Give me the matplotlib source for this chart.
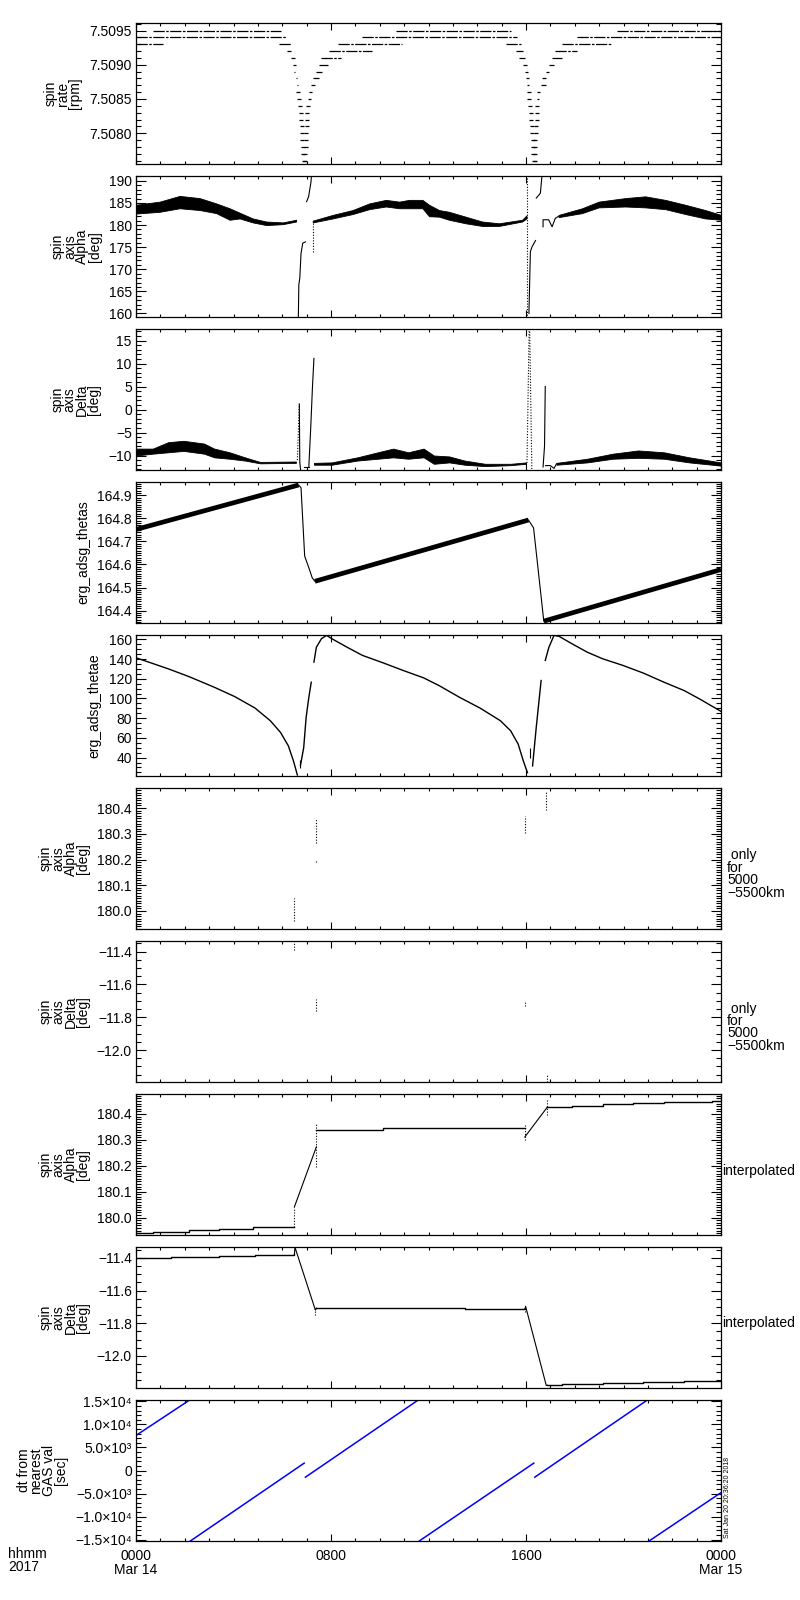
import matplotlib
matplotlib.use("Agg")
import matplotlib.pyplot as plt
from matplotlib.ticker import MultipleLocator, AutoMinorLocator, FuncFormatter, NullFormatter

plt.rcParams['font.family'] = ['Liberation Sans', 'DejaVu Sans']

################################################################################
# Data (hours since 2017-03-14 00:00 UT)
################################################################################
# panel 1 : spin rate [rpm], quantised levels drawn as runs of points
rate_runs = [
    (7.5095, 0.70, 5.95), (7.5095, 10.66, 15.37), (7.5095, 19.73, 24.0),
    (7.5094, 0.00, 6.16), (7.5094, 9.29, 15.64), (7.5094, 18.09, 24.0),
    (7.5093, 0.00, 1.11), (7.5093, 5.85, 6.36), (7.5093, 8.27, 10.93),
    (7.5093, 15.16, 15.78), (7.5093, 17.48, 19.53),
    (7.5092, 6.18, 6.37), (7.5092, 7.93, 9.68), (7.5092, 15.57, 15.87), (7.5092, 17.21, 18.09),
    (7.5091, 6.37, 6.51), (7.5091, 7.59, 8.41), (7.5091, 15.73, 15.95), (7.5091, 17.07, 17.48),
    (7.5090, 6.46, 6.57), (7.5090, 7.52, 7.86), (7.5090, 15.87, 16.05), (7.5090, 16.96, 17.14),
    (7.5089, 6.50, 6.54), (7.5089, 7.38, 7.65), (7.5089, 15.95, 16.09), (7.5089, 16.80, 16.96),
    (7.5088, 6.55, 6.59), (7.5088, 7.25, 7.52), (7.5088, 16.02, 16.12), (7.5088, 16.66, 16.82),
    (7.5087, 6.60, 6.63), (7.5087, 7.18, 7.36), (7.5087, 16.06, 16.14), (7.5087, 16.63, 16.80),
    (7.5086, 7.11, 7.22), (7.5086, 16.46, 16.59),
    (7.5085, 7.04, 7.18), (7.5085, 16.46, 16.53),
]
dip_left_levels = [7.5086, 7.5085, 7.5084, 7.5083, 7.5082, 7.5081, 7.5080,
                   7.5079, 7.5078, 7.5077, 7.5076]
dip1_left = [6.660, 6.701, 6.742, 6.769, 6.783, 6.796, 6.810, 6.824, 6.837, 6.865, 6.878]
dip2_left = [16.12, 16.14, 16.170, 16.197, 16.225, 16.252, 16.266, 16.279, 16.293, 16.307, 16.334]
dip_right_levels = [7.5084, 7.5083, 7.5082, 7.5081, 7.5080, 7.5079, 7.5078, 7.5077, 7.5076]
dip1_right = [7.042, 7.015, 7.001, 7.001, 6.987, 6.974, 6.960, 6.946, 6.919]
dip2_right = [16.470, 16.457, 16.443, 16.416, 16.416, 16.389, 16.389, 16.361, 16.361]

# panel 2 : spin axis alpha [deg], noisy band (lower / upper edge)
alpha_t1 = [0, 0.97, 1.79, 2.61, 3.29, 3.84, 4.25, 4.79, 5.34, 6.02, 6.57]
alpha_lo1 = [182.6, 183.0, 183.8, 183.4, 182.7, 181.2, 181.5, 180.6, 180.0, 180.2, 180.8]
alpha_hi1 = [184.6, 185.3, 186.6, 186.1, 184.9, 183.8, 182.8, 181.5, 180.8, 180.6, 181.2]
alpha_t2 = [7.25, 8.07, 8.89, 9.57, 10.25, 10.8, 11.2, 11.75, 12.02, 12.43, 12.84, 13.52,
            14.2, 14.89, 15.84, 16.02]
alpha_lo2 = [180.6, 181.5, 182.5, 183.6, 184.2, 183.8, 183.8, 183.8, 182.0, 181.9, 181.2,
             180.4, 179.8, 179.8, 180.8, 181.5]
alpha_hi2 = [181.0, 182.3, 183.4, 184.9, 185.7, 185.3, 185.7, 185.7, 184.6, 183.4, 183.0,
             181.9, 180.8, 180.4, 181.2, 182.2]
alpha_t3 = [17.34, 18.3, 18.98, 20.07, 20.89, 21.71, 22.53, 23.35, 24.0]
alpha_lo3 = [181.8, 182.7, 184.0, 184.2, 184.0, 183.6, 182.5, 181.5, 181.2]
alpha_hi3 = [182.3, 183.8, 185.3, 186.1, 186.5, 185.7, 184.6, 183.4, 182.3]
alpha_events = [
    ([6.66, 6.68, 6.72, 6.77, 6.84, 6.95], [159.0, 166.5, 168.0, 173.6, 175.9, 176.2]),
    ([7.00, 7.08, 7.18, 7.20], [185.3, 186.4, 189.8, 191.5]),
    ([16.12, 16.18, 16.25, 16.39], [160.0, 174.0, 175.1, 176.5]),
    ([16.42, 16.59, 16.66], [186.1, 187.2, 191.5]),
    ([16.70, 16.70, 16.93, 17.07, 17.20, 17.34], [179.6, 181.2, 181.2, 179.6, 181.5, 182.0]),
]
alpha_dotted = [(7.25, 174.0, 180.8), (16.03, 159.0, 191.5)]

# panel 3 : spin axis delta [deg]
delta_t1 = [0, 0.69, 1.32, 1.95, 2.79, 3.21, 3.84, 4.47, 5.09, 6.56]
delta_lo1 = [-10.0, -9.6, -9.3, -9.0, -9.6, -10.4, -10.7, -11.1, -11.7, -11.6]
delta_hi1 = [-8.5, -8.5, -7.1, -6.8, -7.4, -8.5, -9.3, -10.4, -11.4, -11.3]
delta_t2 = [7.30, 8.03, 9.08, 9.92, 10.55, 11.17, 11.8, 12.22, 12.85, 13.48, 14.32, 15.37, 16.0]
delta_lo2 = [-12.0, -12.0, -11.1, -10.7, -10.4, -10.7, -10.4, -11.8, -11.5, -12.0, -12.3, -12.1, -11.8]
delta_hi2 = [-11.6, -11.5, -10.4, -9.3, -8.5, -9.3, -8.5, -10.0, -10.2, -11.1, -11.8, -11.8, -11.5]
delta_t3 = [17.25, 18.51, 19.56, 20.6, 21.66, 22.7, 24.0]
delta_lo3 = [-12.0, -11.5, -10.7, -10.5, -10.7, -11.5, -12.2]
delta_hi3 = [-11.6, -10.7, -9.6, -8.9, -9.3, -10.4, -11.5]
delta_events = [
    ([6.70, 6.72, 6.76], [1.2, -11.5, -13.5]),
    ([6.90, 7.09], [-12.5, -12.5]),
    ([7.09, 7.17, 7.24, 7.30], [-12.5, -3.8, 5.0, 11.1]),
    ([16.70, 16.76, 16.79], [-12.5, -8.0, 5.0]),
    ([16.80, 17.0, 17.15, 17.25], [-12.2, -12.2, -12.8, -11.8]),
]
delta_dotted_lines = [
    ([6.62, 6.70], [-11.0, 1.2]),
    ([16.04, 16.13], [-11.6, 17.5]),
    ([16.15, 16.24], [17.5, -13.2]),
]

# panel 4 : erg_adsg_thetas
thetas_thick = [([0.0, 6.67], [164.752, 164.945]),
                ([7.34, 16.10], [164.527, 164.793]),
                ([16.73, 24.0], [164.354, 164.578])]
thetas_drops = [([6.67, 6.77, 6.92, 7.09, 7.23, 7.34], [164.945, 164.933, 164.636, 164.586, 164.542, 164.527]),
                ([16.10, 16.31, 16.52, 16.73], [164.793, 164.759, 164.557, 164.354])]

# panel 5 : erg_adsg_thetae
thetae_t1 = [0, 1.32, 2.16, 3.21, 4.05, 4.88, 5.51, 5.93, 6.25, 6.46, 6.62]
thetae_v1 = [141.3, 130.1, 122.3, 111.4, 101.9, 90.3, 77.4, 65.5, 51.9, 36.6, 22.3]
thetae_rise1_t = [6.75, 6.88, 6.98, 7.09, 7.19]
thetae_rise1_v = [32.5, 50.0, 80.8, 101.0, 116.5]
thetae_t2 = [7.30, 7.40, 7.61, 7.82, 8.03, 8.66, 9.29, 10.13, 10.96, 11.8, 12.43, 13.27,
             14.11, 14.95, 15.37, 15.68, 15.89, 16.06]
thetae_v2 = [136.9, 152.0, 160.7, 164.0, 160.7, 152.0, 143.7, 136.2, 128.4, 120.9, 113.1,
             101.2, 90.3, 77.4, 67.2, 53.6, 36.6, 24.7]
thetae_rise2_t = [16.27, 16.42, 16.52, 16.62]
thetae_rise2_v = [31.5, 70.6, 94.4, 118.2]
thetae_t3 = [16.79, 16.94, 17.15, 17.36, 17.88, 18.51, 19.14, 19.98, 20.82, 21.66, 22.49, 23.12, 24.0]
thetae_v3 = [138.6, 152.0, 164.0, 163.0, 155.6, 147.0, 140.3, 133.5, 125.7, 116.5, 108.0, 99.5, 86.9]
thetae_bits = [(6.71, 29.0, 38.0), (16.17, 40.0, 50.0)]

# panels 6/7 : only for 5000-5500 km (time, low, high)
only_alpha = [(6.50, 179.96, 180.05), (7.40, 180.264, 180.357), (7.40, 180.19, 180.20),
              (15.95, 180.304, 180.368), (16.83, 180.394, 180.465)]
only_delta = [(6.50, -11.39, -11.335), (7.40, -11.76, -11.69),
              (15.95, -11.73, -11.70), (16.87, -12.195, -12.15)]

# panel 8 : interpolated alpha
ialpha_steps = [([0, 0.69, 2.16, 3.42, 4.78, 6.50], [179.942, 179.946, 179.953, 179.957, 179.962, 179.962]),
                ([7.40, 10.13, 15.95], [180.340, 180.344, 180.344]),
                ([16.88, 17.88, 19.14, 20.40, 21.66, 23.65, 24.0],
                 [180.427, 180.432, 180.437, 180.441, 180.446, 180.451, 180.451])]
ialpha_ramps = [([6.50, 7.40], [180.042, 180.273]), ([15.95, 16.88], [180.311, 180.427])]
ialpha_dots = [(6.50, 179.962, 180.042), (7.40, 180.196, 180.36), (15.95, 180.30, 180.36),
               (16.88, 180.395, 180.459)]

# panel 9 : interpolated delta
idelta_steps = [([0, 1.43, 3.42, 4.88, 6.50], [-11.400, -11.396, -11.390, -11.384, -11.377]),
                ([7.40, 13.48, 15.95], [-11.708, -11.712, -11.712]),
                ([16.87, 17.46, 19.14, 20.82, 22.49, 24.0],
                 [-12.179, -12.173, -12.166, -12.160, -12.154, -12.154])]
idelta_ramps = [([6.50, 6.52, 7.36, 7.40], [-11.377, -11.335, -11.72, -11.708]),
                ([15.95, 15.99, 16.83, 16.87], [-11.712, -11.70, -12.18, -12.179])]
idelta_dots = [(7.36, -11.75, -11.70), (15.97, -11.73, -11.69)]

# panel 10 : dt from nearest GAS val [sec], segments (t0, v0, t1, v1)
dt_segments = [(0.00, 7600, 2.20, 15300), (2.23, -15300, 6.90, 1600),
               (6.95, -1450, 11.58, 15300), (11.62, -15300, 16.32, 1600),
               (16.36, -1450, 20.98, 15300), (21.05, -15300, 24.0, -4800)]

ylabels = ["spin\nrate\n[rpm]", "spin\naxis\nAlpha\n[deg]", "spin\naxis\nDelta\n[deg]",
           "erg_adsg_thetas", "erg_adsg_thetae", "spin\naxis\nAlpha\n[deg]",
           "spin\naxis\nDelta\n[deg]", "spin\naxis\nAlpha\n[deg]", "spin\naxis\nDelta\n[deg]",
           "dt from\nnearest\nGAS val\n[sec]"]
ylims = [(7.50755, 7.50961), (159.2, 191.1), (-13.15, 17.5), (164.346, 164.958),
         (21.3, 164.4), (179.93, 180.478), (-12.195, -11.335), (179.933, 180.477),
         (-12.196, -11.334), (-15300, 15300)]
ymajor = [0.0005, 5, 5, 0.1, 20, 0.1, 0.2, 0.1, 0.2, 5000]
yminor = [5, 5, 5, 10, 4, 10, 4, 10, 4, 5]
yfmt = ['{:.4f}', '{:.0f}', '{:.0f}', '{:.1f}', '{:.0f}', '{:.1f}', '{:.1f}', '{:.1f}', '{:.1f}', 'sci']
xtick_text = {0: '0000\nMar 14', 8: '0800', 16: '1600', 24: '0000\nMar 15'}

################################################################################
# Helpers
################################################################################
SUP = {'3': '\u00b3', '4': '\u2074'}


def make_formatter(fmt):
    def f(v, pos):
        if fmt == 'sci':
            if abs(v) < 1e-9:
                return '0'
            s = '{:.1e}'.format(v)
            mant, ex = s.split('e')
            ex = str(int(ex))
            return (mant + '\u00d710' + SUP.get(ex, ex)).replace('-', '\u2212')
        s = fmt.format(v)
        if s.startswith('-') and float(s) == 0:
            s = s[1:]
        return s.replace('-', '\u2212')
    return FuncFormatter(f)


def style_axis(ax, k):
    ax.set_xlim(0, 24)
    ax.set_ylim(*ylims[k])
    ax.xaxis.set_major_locator(MultipleLocator(8))
    ax.xaxis.set_minor_locator(MultipleLocator(1))
    ax.yaxis.set_major_locator(MultipleLocator(ymajor[k]))
    ax.yaxis.set_minor_locator(AutoMinorLocator(yminor[k]))
    ax.yaxis.set_major_formatter(make_formatter(yfmt[k]))
    ax.tick_params(which='both', direction='in', top=True, right=True,
                   labelsize=10, width=0.8, colors='black')
    ax.tick_params(axis='y', which='major', length=7, pad=3)
    ax.tick_params(axis='y', which='minor', length=3.6)
    ax.tick_params(axis='x', which='major', length=5, pad=6)
    ax.tick_params(axis='x', which='minor', length=2.5)
    for s in ax.spines.values():
        s.set_linewidth(0.9)
    ax.set_ylabel(ylabels[k], fontsize=10, linespacing=0.85, labelpad=5)
    if k < 9:
        ax.xaxis.set_major_formatter(NullFormatter())
    else:
        ax.xaxis.set_major_formatter(FuncFormatter(lambda v, p: xtick_text.get(int(round(v)), '')))


################################################################################
# Figure
################################################################################
fig = plt.figure(figsize=(8, 16), dpi=100)
axes = []
for k in range(10):
    top = 23 + 153 * k
    ax = fig.add_axes([136 / 800, 1 - (top + 141) / 1600, 585 / 800, 141 / 1600])
    style_axis(ax, k)
    axes.append(ax)

LW = 0.8
# spin rate
ax = axes[0]
for lev, t0, t1 in rate_runs:
    ax.hlines(lev, t0, t1, colors='k', linewidth=0.9, linestyles=(0, (9, 1.2, 2, 1.2)))
for tl, lv in [(dip1_left, dip_left_levels), (dip2_left, dip_left_levels),
               (dip1_right, dip_right_levels), (dip2_right, dip_right_levels)]:
    ax.plot(tl, lv, ls='none', marker='_', ms=2.5, mew=0.9, color='k')

# spin axis alpha
ax = axes[1]
for t, lo, hi in [(alpha_t1, alpha_lo1, alpha_hi1), (alpha_t2, alpha_lo2, alpha_hi2),
                  (alpha_t3, alpha_lo3, alpha_hi3)]:
    ax.fill_between(t, lo, hi, color='k', linewidth=0.6)
for t, v in alpha_events:
    ax.plot(t, v, color='k', lw=LW)
for t, v0, v1 in alpha_dotted:
    ax.vlines(t, v0, v1, colors='k', linewidth=LW, linestyles=(0, (1, 1.5)))

# spin axis delta
ax = axes[2]
for t, lo, hi in [(delta_t1, delta_lo1, delta_hi1), (delta_t2, delta_lo2, delta_hi2),
                  (delta_t3, delta_lo3, delta_hi3)]:
    ax.fill_between(t, lo, hi, color='k', linewidth=0.6)
for t, v in delta_events:
    ax.plot(t, v, color='k', lw=LW)
for t, v in delta_dotted_lines:
    ax.plot(t, v, color='k', lw=LW, ls=(0, (1, 1.5)))

# thetas
ax = axes[3]
for t, v in thetas_thick:
    ax.plot(t, v, color='k', lw=3.4, solid_capstyle='butt')
for t, v in thetas_drops:
    ax.plot(t, v, color='k', lw=LW)

# thetae
ax = axes[4]
for t, v in [(thetae_t1, thetae_v1), (thetae_rise1_t, thetae_rise1_v), (thetae_t2, thetae_v2),
             (thetae_rise2_t, thetae_rise2_v), (thetae_t3, thetae_v3)]:
    ax.plot(t, v, color='k', lw=1.0)
for t, v0, v1 in thetae_bits:
    ax.vlines(t, v0, v1, colors='k', linewidth=LW)

# only for 5000-5500 km
for ax, pts in [(axes[5], only_alpha), (axes[6], only_delta)]:
    for t, v0, v1 in pts:
        ax.vlines(t, v0, v1, colors='k', linewidth=LW, linestyles=(0, (1, 1.5)))

# interpolated
for ax, steps, ramps, dots in [(axes[7], ialpha_steps, ialpha_ramps, ialpha_dots),
                               (axes[8], idelta_steps, idelta_ramps, idelta_dots)]:
    for t, v in steps:
        ax.plot(t, v, color='k', lw=1.0, drawstyle='steps-post')
    for t, v in ramps:
        ax.plot(t, v, color='k', lw=LW)
    for t, v0, v1 in dots:
        ax.vlines(t, v0, v1, colors='k', linewidth=LW, linestyles=(0, (1, 1.5)))

# dt from nearest GAS val
ax = axes[9]
for t0, v0, t1, v1 in dt_segments:
    ax.plot([t0, t1], [v0, v1], color='blue', lw=1.1)
for lbl in ax.get_xticklabels():
    lbl.set_linespacing(0.95)

# side annotations
def ypx(y):
    return 1 - y / 1600


for k in (5, 6):
    mid = 23 + 153 * k + 70.5
    fig.text(727 / 800, ypx(mid - 10), " only\nfor\n5000\n\u22125500km", fontsize=10,
             va='top', ha='left', linespacing=0.85)
for k in (7, 8):
    mid = 23 + 153 * k + 70.5
    fig.text(722 / 800, ypx(mid + 6), "interpolated", fontsize=10, va='center', ha='left')

fig.text(8 / 800, ypx(1547), "hhmm\n2017", fontsize=10, va='top', ha='left', linespacing=0.95)
fig.text(724 / 800, ypx(1538), "Sat Jan 20 20:36:20 2018", fontsize=5, rotation=90,
         va='bottom', ha='left')

fig.savefig('out.png', dpi=100, facecolor='white')
